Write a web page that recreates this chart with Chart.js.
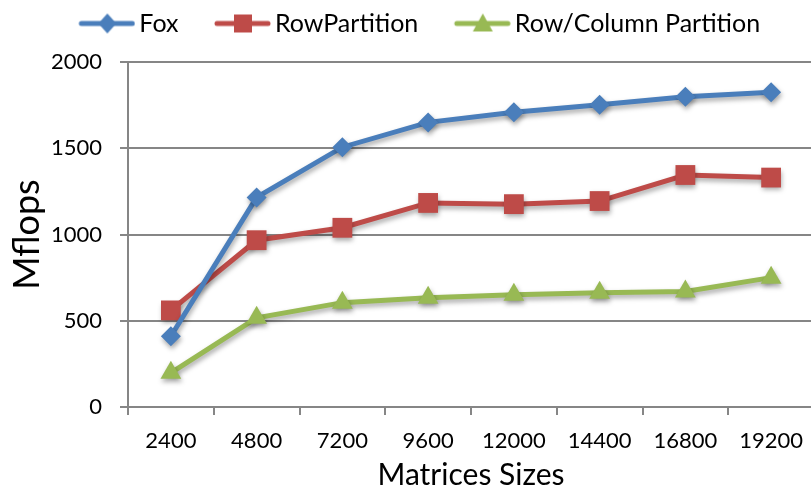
<!DOCTYPE html>
<html>
<head>
<meta charset="utf-8">
<script src="https://cdn.jsdelivr.net/npm/chart.js@4/dist/chart.umd.min.js"></script>
<style>
  html, body { margin: 0; padding: 0; background: #fff; overflow: hidden; }
  #wrap { width: 814px; height: 490px; }
</style>
</head>
<body>
<div id="wrap"><canvas id="chart" width="814" height="490"></canvas></div>
<script>
(function() {
    "use strict";

    var sizes = ['2400', '4800', '7200', '9600', '12000', '14400', '16800', '19200'];
    var fox = [410, 1215, 1506, 1650, 1709, 1752, 1798, 1824];
    var rowPartition = [560, 967, 1039, 1183, 1176, 1194, 1345, 1330];
    var rowColPartition = [198, 517, 605, 634, 651, 663, 670, 750];
    var yTicks = [0, 500, 1000, 1500, 2000];

    var blue = '#4a7ebb', red = '#be4b48', green = '#98b954';
    var axisGray = '#868686';

    Chart.defaults.font.family = 'Lato, "Open Sans", sans-serif';
    Chart.defaults.color = '#000';

    // line + marker picture for the legend, blank space on the left for item spacing
    function legendIcon(color, shape) {
        var c = document.createElement('canvas');
        c.width = 90; c.height = 24;
        var ctx = c.getContext('2d');
        var cx = 62;
        ctx.strokeStyle = color;
        ctx.lineWidth = 5;
        ctx.lineCap = 'round';
        ctx.beginPath();
        ctx.moveTo(36, 12); ctx.lineTo(87, 12);
        ctx.stroke();
        ctx.fillStyle = color;
        ctx.beginPath();
        if (shape === 'diamond') {
            ctx.moveTo(cx, 2); ctx.lineTo(cx + 9, 12); ctx.lineTo(cx, 22); ctx.lineTo(cx - 9, 12);
        } else if (shape === 'square') {
            ctx.rect(cx - 9, 3, 18, 18);
        } else {
            ctx.moveTo(cx, 2); ctx.lineTo(cx + 10, 20); ctx.lineTo(cx - 10, 20);
        }
        ctx.closePath();
        ctx.fill();
        return c;
    }

    var shadowPlugin = {
        id: 'lineShadow',
        beforeDatasetsDraw: function(chart) {
            var ctx = chart.ctx;
            ctx.save();
            ctx.shadowColor = 'rgba(0,0,0,0.35)';
            ctx.shadowBlur = 5;
            ctx.shadowOffsetX = 1;
            ctx.shadowOffsetY = 3;
        },
        afterDatasetsDraw: function(chart) {
            chart.ctx.restore();
        }
    };

    var icons = [legendIcon(blue, 'diamond'), legendIcon(red, 'square'), legendIcon(green, 'triangle')];

    var myChart = new Chart(document.getElementById('chart'), {
        type: 'line',
        data: {
            labels: sizes,
            datasets: [{
                label: 'Fox',
                data: fox,
                borderColor: blue,
                backgroundColor: blue,
                borderWidth: 5,
                pointStyle: 'rectRot',
                pointRadius: 10,
                pointBorderWidth: 0,
                pointHoverRadius: 10,
            }, {
                label: 'RowPartition',
                data: rowPartition,
                borderColor: red,
                backgroundColor: red,
                borderWidth: 5,
                pointStyle: 'rect',
                pointRadius: 14,
                pointBorderWidth: 0,
                pointHoverRadius: 14,
            }, {
                label: 'Row/Column Partition',
                data: rowColPartition,
                borderColor: green,
                backgroundColor: green,
                borderWidth: 5,
                pointStyle: 'triangle',
                pointRadius: 12,
                pointBorderWidth: 0,
                pointHoverRadius: 12,
            }]
        },
        options: {
            responsive: false,
            animation: false,
            layout: {
                padding: 0,
                autoPadding: false,
            },
            plugins: {
                legend: {
                    display: true,
                    position: 'top',
                    labels: {
                        usePointStyle: true,
                        pointStyleWidth: 73,
                        padding: 11,
                        font: { size: 25 },
                        generateLabels: function(chart) {
                            return chart.data.datasets.map(function(ds, i) {
                                return {
                                    text: ds.label,
                                    pointStyle: icons[i],
                                    fillStyle: ds.borderColor,
                                    strokeStyle: ds.borderColor,
                                    lineWidth: 0,
                                    datasetIndex: i,
                                    hidden: false,
                                };
                            });
                        },
                    },
                },
                // empty spacer between legend and plot
                subtitle: {
                    display: true,
                    text: '',
                    weight: 500,
                    font: { size: 1, lineHeight: 1 },
                    padding: { top: 8, bottom: 7 },
                },
                tooltip: { enabled: false },
            },
            scales: {
                x: {
                    offset: true,
                    grid: {
                        offset: true,
                        drawOnChartArea: false,
                        color: axisGray,
                        lineWidth: 2,
                        tickLength: 8,
                    },
                    border: { color: axisGray, width: 2 },
                    ticks: {
                        padding: 13,
                        maxRotation: 0,
                        autoSkip: false,
                        font: { size: 22 },
                    },
                    title: {
                        display: true,
                        text: 'Matrices Sizes',
                        font: { size: 30, lineHeight: 1 },
                        padding: { top: 0, bottom: 0 },
                    },
                    afterFit: function(scale) {
                        scale.height = 83;
                        scale.paddingLeft = 0;
                        scale.paddingRight = 0;
                    },
                },
                y: {
                    min: 0,
                    max: 2000,
                    afterBuildTicks: function(scale) {
                        scale.ticks = yTicks.map(function(v) { return { value: v }; });
                    },
                    grid: {
                        color: axisGray,
                        lineWidth: 2,
                        tickLength: 8,
                    },
                    border: { color: axisGray, width: 2 },
                    ticks: {
                        padding: 18,
                        font: { size: 22 },
                        callback: function(value) { return String(value); },
                    },
                    title: {
                        display: true,
                        text: 'Mflops',
                        font: { size: 36 },
                        padding: { top: 6, bottom: 0 },
                    },
                    afterFit: function(scale) { scale.width = 128; },
                },
            },
        },
        plugins: [shadowPlugin],
    });

})();
</script>
</body>
</html>
